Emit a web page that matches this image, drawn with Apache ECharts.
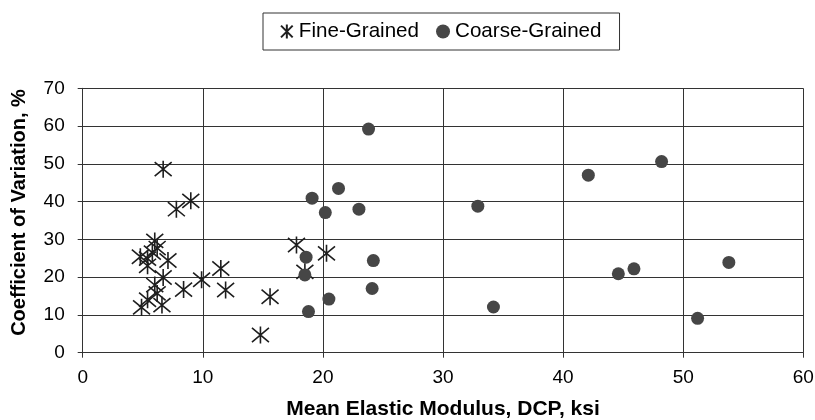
<!DOCTYPE html>
<html>
<head>
<meta charset="utf-8">
<script src="https://cdn.jsdelivr.net/npm/echarts@6/dist/echarts.min.js"></script>
<style>
  html, body { margin: 0; padding: 0; background: #fff; }
  #chart { width: 815px; height: 420px; }
</style>
</head>
<body>
<div id="chart"></div>
<script>
// Fine-grained soils: mean elastic modulus (ksi) and coefficient of variation (%)
const fineModulus = [6.7, 7.8, 9.0, 6.0, 6.2, 4.8, 5.4, 5.8, 7.1, 5.4,
                     6.7, 6.0, 6.2, 5.4, 6.6, 4.9, 8.4, 9.9, 11.5, 11.9,
                     15.6, 14.8, 17.8, 18.5, 20.3];
const fineCov     = [48.6, 38.0, 40.2, 29.6, 27.7, 25.4, 24.9, 26.5, 24.4, 23.0,
                     19.9, 17.9, 15.7, 14.0, 12.6, 12.0, 16.7, 19.3, 22.3, 16.6,
                     14.8, 4.7, 28.5, 21.4, 26.3];

// Coarse-grained soils
const coarseModulus = [23.8, 21.3, 19.1, 20.2, 23.0, 18.6, 18.5, 24.2, 24.1, 20.5,
                       18.8, 32.9, 34.2, 42.1, 48.2, 44.6, 45.9, 53.8, 51.2];
const coarseCov     = [59.2, 43.5, 40.9, 37.1, 38.0, 25.3, 20.6, 24.4, 17.0, 14.2,
                       10.9, 38.8, 12.1, 47.0, 50.6, 20.9, 22.2, 23.9, 9.1];

const seriesNames = ['Fine-Grained', 'Coarse-Grained'];
const xTitle = 'Mean Elastic Modulus, DCP, ksi';
const yTitle = 'Coefficient of Variation, %';

const pairs = (xs, ys) => xs.map((x, i) => [x, ys[i]]);

// Asterisk marker: an X crossed by a vertical stroke
const starPath = 'path://M0,0L10,10M10,0L0,10M5,-1L5,11';

const font = '"Liberation Sans", Arial, Helvetica, sans-serif';
const lineColor = '#333';

const chart = echarts.init(document.getElementById('chart'), null, { renderer: 'canvas' });

chart.setOption({
  animation: false,
  backgroundColor: '#fff',
  textStyle: { fontFamily: font },
  legend: {
    data: seriesNames,
    left: 263,
    top: 13,
    padding: [8, 18, 8, 17],
    itemGap: 17,
    itemWidth: 14,
    itemHeight: 14,
    borderColor: '#333',
    borderWidth: 1,
    textStyle: { fontSize: 20.6, color: '#000', fontFamily: font }
  },
  grid: { left: 82.7, right: 11.7, top: 88.3, bottom: 67.3, outerBoundsMode: 'none' },
  xAxis: {
    type: 'value',
    min: 0, max: 60, interval: 10,
    name: xTitle,
    nameLocation: 'middle',
    nameGap: 46,
    nameTextStyle: { fontSize: 21, fontWeight: 'bold', color: '#000', fontFamily: font },
    axisLine: { show: true, onZero: false, lineStyle: { color: lineColor, width: 1 } },
    axisTick: { show: true, length: 5, inside: false, lineStyle: { color: lineColor } },
    axisLabel: { fontSize: 19, color: '#000', margin: 16, fontFamily: font },
    splitLine: { show: true, lineStyle: { color: lineColor, width: 1 } }
  },
  yAxis: {
    type: 'value',
    min: 0, max: 70, interval: 10,
    name: yTitle,
    nameLocation: 'middle',
    nameGap: 53,
    nameRotate: 90,
    nameTextStyle: { fontSize: 20, fontWeight: 'bold', color: '#000', fontFamily: font,
                     padding: [0, 0, 0, 16] },
    axisLine: { show: true, onZero: false, lineStyle: { color: lineColor, width: 1 } },
    axisTick: { show: true, length: 5, inside: false, lineStyle: { color: lineColor } },
    axisLabel: { fontSize: 19, color: '#000', margin: 18, fontFamily: font, padding: [6, 0, 0, 0] },
    splitLine: { show: true, lineStyle: { color: lineColor, width: 1 } }
  },
  series: [
    {
      name: seriesNames[0],
      type: 'scatter',
      data: pairs(fineModulus, fineCov),
      symbol: starPath,
      symbolSize: 17,
      itemStyle: { color: 'transparent', borderColor: '#1e1e1e', borderWidth: 1.6, opacity: 1 },
      emphasis: { disabled: true },
      z: 3
    },
    {
      name: seriesNames[1],
      type: 'scatter',
      data: pairs(coarseModulus, coarseCov),
      symbol: 'circle',
      symbolSize: 13,
      itemStyle: { color: '#464646', opacity: 1 },
      emphasis: { disabled: true },
      z: 4
    }
  ]
});
</script>
</body>
</html>
